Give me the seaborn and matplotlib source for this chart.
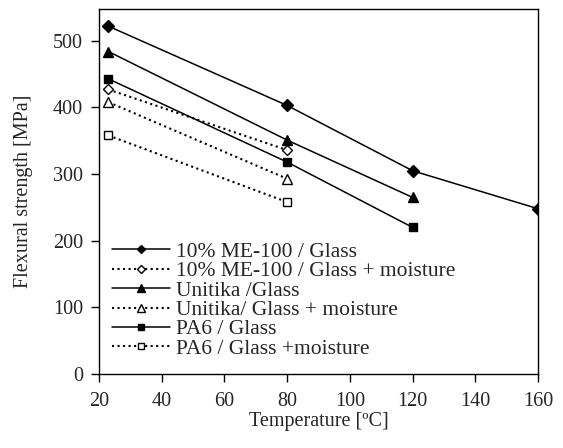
import matplotlib
matplotlib.use("Agg")
import matplotlib.pyplot as plt
import seaborn as sns
import pandas as pd

temps_a = [23, 80, 120, 160]
temps_b = [23, 80, 120]
temps_c = [23, 80]

me_glass = [522, 403, 305, 248]
me_moist = [427, 336]
un_glass = [484, 351, 265]
un_moist = [408, 293]
pa_glass = [443, 318, 220]
pa_moist = [358, 258]

labels = ["10% ME-100 / Glass", "10% ME-100 / Glass + moisture",
          "Unitika /Glass", "Unitika/ Glass + moisture",
          "PA6 / Glass", "PA6 / Glass +moisture"]

sns.set_theme(style="ticks")
plt.rcParams['font.family'] = ['Liberation Serif', 'DejaVu Serif']

fig = plt.figure(figsize=(5.63, 4.48), dpi=100)
ax = fig.add_axes([0.1758, 0.1652, 0.780, 0.815])

series = [
    (temps_a, me_glass, labels[0], '-', 'D', 'black', 6),
    (temps_c, me_moist, labels[1], ':', 'D', 'white', 5),
    (temps_b, un_glass, labels[2], '-', '^', 'black', 7),
    (temps_c, un_moist, labels[3], ':', '^', 'white', 7),
    (temps_b, pa_glass, labels[4], '-', 's', 'black', 6),
    (temps_c, pa_moist, labels[5], ':', 's', 'white', 6),
]
for xs, ys, lab, ls, mk, fc, ms in series:
    df = pd.DataFrame({"x": xs, "y": ys})
    sns.lineplot(data=df, x="x", y="y", ax=ax, color="black", linestyle=ls,
                 marker=mk, markerfacecolor=fc, markeredgecolor="black",
                 markersize=ms, markeredgewidth=1.0, linewidth=1.1 if ls == '-' else 1.5,
                 label=lab)

ax.set_xlim(20, 160)
ax.set_ylim(0, 548)
ax.set_xticks(range(20, 161, 20))
ax.set_yticks(range(0, 501, 100))
ax.set_xlabel("Temperature [ºC]", fontsize=14.5, labelpad=1)
ax.set_ylabel("Flexural strength [MPa]", fontsize=14.5, labelpad=14)
ax.tick_params(labelsize=14.5, direction='out', length=5.5, color='black', width=1)
ax.tick_params(axis='x', pad=7.5)
ax.tick_params(axis='y', pad=6)
for s in ax.spines.values():
    s.set_visible(True)
    s.set_color('black')
    s.set_linewidth(1.0)

leg = ax.legend(loc='lower left', bbox_to_anchor=(-0.005, 0.0), frameon=False,
                fontsize=15.5, handlelength=2.7, handletextpad=0.3,
                labelspacing=-0.03, borderaxespad=0.3, markerscale=0.75)

fig.savefig("out.png", dpi=100)
